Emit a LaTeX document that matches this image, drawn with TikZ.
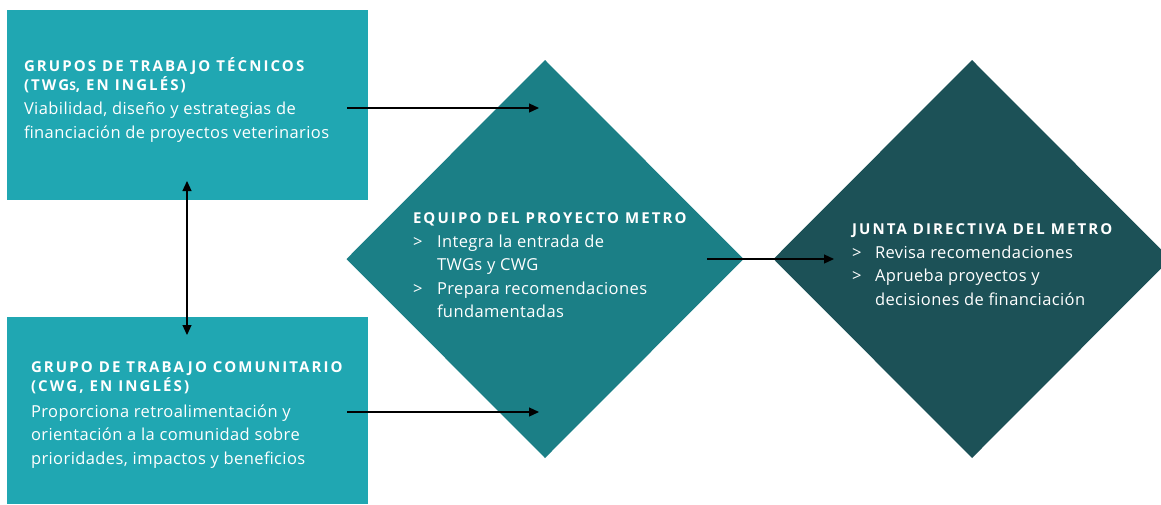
\documentclass[tikz,border=0pt]{standalone}
\usepackage{fontspec}
\setmainfont{Open Sans}
\usetikzlibrary{shapes.geometric,arrows.meta}
\definecolor{boxteal}{HTML}{20A7B2}
\definecolor{midteal}{HTML}{1B7F86}
\definecolor{darkteal}{HTML}{1C5157}
\newcommand{\headfont}{\fontsize{15}{19}\selectfont\bfseries\addfontfeature{LetterSpace=14}}
\newcommand{\bodyfont}{\fontsize{16.5}{23.5}\selectfont\addfontfeature{LetterSpace=2.5}}
\begin{document}
\begin{tikzpicture}[x=1pt,y=-1pt,>={Triangle[length=10pt,width=9pt]},
every node/.style={inner sep=0pt,outer sep=0pt,text=white},
box/.style={rectangle,fill=boxteal,anchor=north west,minimum width=361pt},
diam/.style={diamond,aspect=1,minimum width=397pt,minimum height=398pt},
head/.style={font=\headfont,anchor=base west},
body/.style={font=\bodyfont,anchor=base west}]
\useasboundingbox (0,0) rectangle (1161,504);
\node[box,minimum height=190pt] (twg) at (7,10) {};
\node[box,minimum height=187pt] (cwg) at (7,317) {};
\node[diam,fill=midteal] (equipo) at (545,259) {};
\node[diam,fill=darkteal] (junta) at (972,259) {};
\path
(347,108) coordinate (T1)
(539,108) coordinate (T2)
(347,412) coordinate (C1)
(539,412) coordinate (C2)
(707,259) coordinate (E1)
(834,259) coordinate (E2)
(187,181) coordinate (V1)
(187,335) coordinate (V2);
% textos de los grupos
\node[head] (twgh1) at (24,71) {GRUPOS DE TRABAJO TÉCNICOS};
\node[head] (twgh2) at (24,90) {(TWG{\fontsize{12}{19}\selectfont S}, EN INGLÉS)};
\foreach \y/\t [count=\i] in {114/{Viabilidad, diseño y estrategias de},138/{financiación de proyectos veterinarios}}{
\node[body] (twgb\i) at (24,\y) {\t};
}
\node[head] (cwgh1) at (31,372) {GRUPO DE TRABAJO COMUNITARIO};
\node[head] (cwgh2) at (31,391) {(CWG, EN INGLÉS)};
\foreach \y/\t [count=\i] in {417/{Proporciona retroalimentación y},440/{orientación a la comunidad sobre},464/{prioridades, impactos y beneficios}}{
\node[body] (cwgb\i) at (31,\y) {\t};
}
% textos de los rombos
\node[head] (eqh) at (413,223) {EQUIPO DEL PROYECTO METRO};
\foreach \y/\t [count=\i] in {247/{Integra la entrada de},270/{TWGs y CWG},294/{Prepara recomendaciones},317/{fundamentadas}}{
\node[body] (eqb\i) at (437,\y) {\t};
}
\foreach \y [count=\i] in {247,294}{\node[body] (eqm\i) at (413,\y) {>};}
\node[head] (jth) at (852,234) {JUNTA DIRECTIVA DEL METRO};
\foreach \y/\t [count=\i] in {258/{Revisa recomendaciones},281/{Aprueba proyectos y},305/{decisiones de financiación}}{
\node[body] (jtb\i) at (875,\y) {\t};
}
\foreach \y [count=\i] in {258,281}{\node[body] (jtm\i) at (852,\y) {>};}
% flechas
\draw[->,line width=1.2pt] (T1)--(T2);
\draw[->,line width=1.2pt] (C1)--(C2);
\draw[->,line width=1.2pt] (E1)--(E2);
\draw[<->,line width=1.2pt] (V1)--(V2);
\end{tikzpicture}
\end{document}
